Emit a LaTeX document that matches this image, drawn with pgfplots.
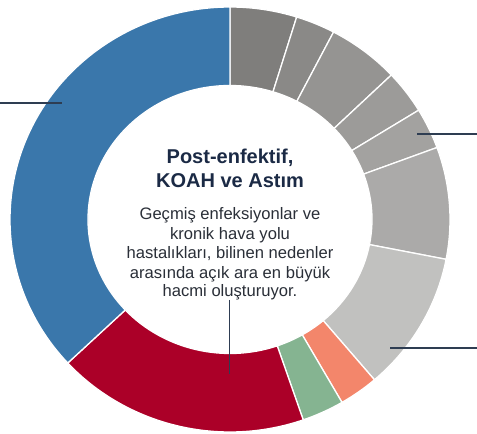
\documentclass[border=0pt]{standalone}
\usepackage{pgfplots}
\usepackage{pgfplotstable}
\pgfplotsset{compat=1.18}
\usepackage{fontspec}
\setmainfont{Liberation Sans}
\definecolor{g1}{HTML}{7F7E7C}
\definecolor{g2}{HTML}{8A8987}
\definecolor{g3}{HTML}{959492}
\definecolor{g4}{HTML}{9C9B99}
\definecolor{g5}{HTML}{A3A2A0}
\definecolor{g6}{HTML}{ABAAA9}
\definecolor{g7}{HTML}{C1C1BF}
\definecolor{salmon}{HTML}{F3866B}
\definecolor{sage}{HTML}{85B491}
\definecolor{crim}{HTML}{AB0028}
\definecolor{steel}{HTML}{3A77AB}
\definecolor{navy}{HTML}{1B2A45}
\definecolor{bodytxt}{HTML}{2A2F38}
\definecolor{leader}{HTML}{2E3D52}
\pgfplotstableread{
v col
4.9 g1
2.9 g2
5.3 g3
3.3 g4
3.1 g5
8.5 g6
10.6 g7
2.9 salmon
3.1 sage
18.6 crim
36.8 steel
}\donutdata
\begin{document}
\begin{tikzpicture}
\begin{axis}[hide axis, scale only axis, width=477pt, height=434pt,
  xmin=-1.0454545, xmax=1.1227273, ymin=-1.0094118, ymax=1.0329412, clip=true]
\fill[white] (rel axis cs:0,0) rectangle (rel axis cs:1,1);
\coordinate (O) at (rel axis cs:0,1);
\gdef\segA{90}
\pgfplotsforeachungrouped \i in {0,...,10}{%
  \pgfplotstablegetelem{\i}{v}\of\donutdata
  \let\segV\pgfplotsretval
  \pgfplotstablegetelem{\i}{col}\of\donutdata
  \let\segC\pgfplotsretval
  \pgfmathsetmacro\segB{\segA-\segV*3.6}%
  \edef\tmp{\noexpand\fill[\segC, draw=white, line width=1.3pt]
    (axis cs:{cos(\segA)},{sin(\segA)})
    arc[start angle=\segA, end angle=\segB, x radius=220pt, y radius=212.5pt]
    -- (axis cs:{0.64545*cos(\segB)},{0.63059*sin(\segB)})
    arc[start angle=\segB, end angle=\segA, x radius=142pt, y radius=134pt]
    -- cycle;}%
  \tmp
  \global\let\segA\segB
}
\end{axis}
\begin{scope}[shift={(O)}, x=1pt, y=-1pt]
\draw[leader, line width=1.2pt] (0,103) -- (62,103);
\draw[leader, line width=1.2pt] (417,134) -- (477,134);
\draw[leader, line width=1.2pt] (390,348) -- (477,348);
\draw[leader, line width=1.2pt] (229.5,300) -- (229.5,374);
\node[anchor=base, text=navy, font=\fontsize{20pt}{24pt}\selectfont\bfseries, inner sep=0pt] at (230,163.3) {Post-enfektif,};
\node[anchor=base, text=navy, font=\fontsize{20pt}{24pt}\selectfont\bfseries, inner sep=0pt] at (230,187.5) {KOAH ve Astım};
\node[anchor=base, text=bodytxt, font=\fontsize{16.6pt}{20pt}\selectfont, inner sep=0pt] at (230,220) {Geçmiş enfeksiyonlar ve};
\node[anchor=base, text=bodytxt, font=\fontsize{16.6pt}{20pt}\selectfont, inner sep=0pt] at (230,239.5) {kronik hava yolu};
\node[anchor=base, text=bodytxt, font=\fontsize{16.6pt}{20pt}\selectfont, inner sep=0pt] at (230,259) {hastalıkları, bilinen nedenler};
\node[anchor=base, text=bodytxt, font=\fontsize{16.6pt}{20pt}\selectfont, inner sep=0pt] at (230,278.3) {arasında açık ara en büyük};
\node[anchor=base, text=bodytxt, font=\fontsize{16.6pt}{20pt}\selectfont, inner sep=0pt] at (230,297) {hacmi oluşturuyor.};
\end{scope}
\pgfresetboundingbox
\path (O) rectangle ++(477pt,-434pt);
\end{tikzpicture}
\end{document}
